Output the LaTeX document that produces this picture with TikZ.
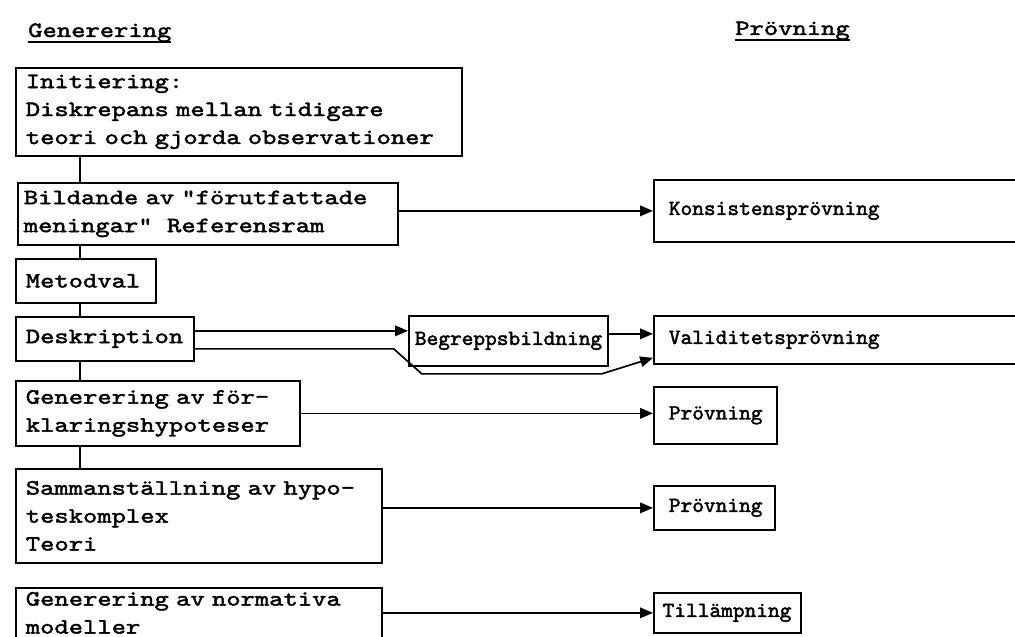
\documentclass[tikz,border=0pt]{standalone}
\usepackage{fontspec}
\newfontfamily\typewide{lmmono10-regular}[Extension=.otf, FakeStretch=1.25, FakeBold=2]
\newfontfamily\typenarrow{lmmono10-regular}[Extension=.otf, FakeStretch=1.03, FakeBold=2]
\usetikzlibrary{arrows.meta}
\newcommand{\headrule}[1]{\leavevmode\setbox0=\hbox{#1}\rlap{\copy0}\rule[-4.5pt]{\wd0}{1.5pt}}
\tikzstyle{stage} = [rectangle, anchor=north west, draw=black, line width=1.2pt, align=left, inner xsep=0.25cm, inner ysep=0pt, font=\typewide\fontsize{15.5}{19.9}\selectfont]
\tikzstyle{test} = [rectangle, anchor=north west, draw=black, line width=1.2pt, align=left, inner xsep=0.375cm, inner ysep=0pt, font=\typenarrow\fontsize{15.4}{19.9}\selectfont]
\tikzstyle{heading} = [anchor=base west, inner sep=0pt, font=\typewide\fontsize{15.5}{19.9}\selectfont]
\tikzstyle{arrow} = [line width=1.2pt, -{Triangle[length=0.32cm, width=0.26cm]}]
\tikzstyle{link} = [line width=1.2pt]

\begin{document}
\begin{tikzpicture}[x=0.025cm, y=-0.025cm]
\useasboundingbox (0,0) rectangle (1015,637);

% headings
\node (genhead) at (28,37) [heading] {\headrule{Generering}};
\node (provhead) at (735,35) [heading] {\headrule{Prövning}};

% objects
\node (init) at (15,67) [stage, text width=10.65cm, minimum height=2.2cm] {Initiering:\\Diskrepans mellan tidigare\\teori och gjorda observationer};
\node (refram) at (17,182) [stage, inner xsep=0.15cm, text width=9.2cm, minimum height=1.55cm] {Bildande av "förutfattade\\meningar"\ \ Referensram};
\node (metod) at (15,258) [stage, text width=3.0cm, minimum height=1.1cm] {Metodval};
\node (deskr) at (15,316) [stage, text width=3.95cm, minimum height=1.1cm] {Deskription};
\node (forkl) at (15,380) [stage, text width=6.6cm, minimum height=1.625cm] {Generering av för-\\klaringshypoteser};
\node (teori) at (15,468) [stage, text width=8.65cm, minimum height=2.35cm] {Sammanställning av hypo-\\teskomplex\\Teori};
\node (normativ) at (15,587) [stage, text width=8.65cm, minimum height=1.25cm] {Generering av normativa\\modeller};

\node (konsist) at (653,179) [test, text width=9cm, minimum height=1.55cm] {Konsistensprövning};
\node (begrepp) at (408,315) [test, inner xsep=0.15cm, text width=4.675cm, minimum height=1.25cm] {Begreppsbildning};
\node (valid) at (653,315) [test, text width=9cm, minimum height=1.2cm] {Validitetsprövning};
\node (prov1) at (653,386) [test, text width=2.325cm, minimum height=1.425cm] {Prövning};
\node (prov2) at (653,485) [test, text width=2.275cm, minimum height=1.1cm] {Prövning};
\node (tillamp) at (653,592) [test, inner xsep=0.22cm, text width=3.235cm, minimum height=1.0cm] {Tillämpning};

% spine
\coordinate (spine) at (80,0);
\draw [link] (spine |- init.south) -- (spine |- refram.north);
\draw [link] (spine |- refram.south) -- (spine |- metod.north);
\draw [link] (spine |- metod.south) -- (spine |- deskr.north);
\draw [link] (spine |- deskr.south) -- (spine |- forkl.north);
\draw [link] (spine |- forkl.south) -- (spine |- teori.north);

% arrows
\draw [arrow] (refram.east |- konsist.west) -- (konsist.west);
\draw [arrow] ([yshift=0.2cm]deskr.east) -- ([yshift=0.2cm]deskr.east -| begrepp.west);
\draw [arrow] ([yshift=-0.25cm]deskr.east) -- ++(199,0) -- ++(28,25) -- ++(180,0) -- ([yshift=-0.45cm]valid.west);
\draw [arrow] ([yshift=0.175cm]begrepp.east) -- ([yshift=0.175cm]begrepp.east -| valid.west);
\draw [arrow] (forkl.east) -- (forkl.east -| prov1.west);
\draw [arrow] (teori.east |- prov2.west) -- (prov2.west);
\draw [arrow] (normativ.east |- tillamp.west) -- (tillamp.west);

\end{tikzpicture}
\end{document}
